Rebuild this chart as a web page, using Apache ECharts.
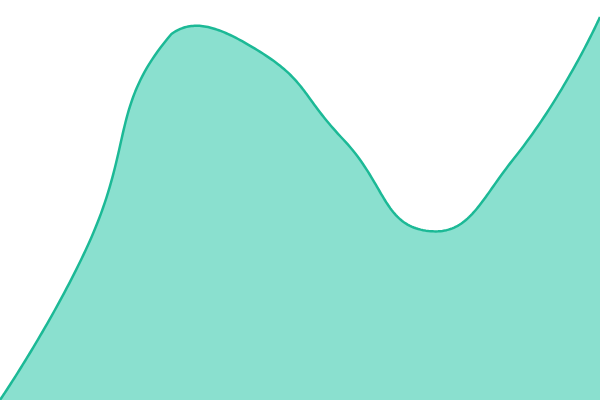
<!DOCTYPE html>
<html>
<head>
<meta charset="utf-8">
<script src="https://cdn.jsdelivr.net/npm/echarts@6/dist/echarts.min.js"></script>
<style>html,body{margin:0;padding:0;background:#fff}#c{width:600px;height:400px}</style>
</head>
<body>
<div id="c"></div>
<script>
const categories = ['A', 'B', 'C', 'D', 'E', 'F', 'G', 'H'];
const values = [0, 150, 366, 350, 261, 169, 242, 383];

const SMOOTH = 0.5;
const SAMPLES = 48;

// Bezier control points (distance-weighted, constrained to the points' bounding box)
function controlPoints(pts, smooth) {
  let minX = Infinity, minY = Infinity, maxX = -Infinity, maxY = -Infinity;
  pts.forEach(p => {
    minX = Math.min(minX, p[0]); maxX = Math.max(maxX, p[0]);
    minY = Math.min(minY, p[1]); maxY = Math.max(maxY, p[1]);
  });
  const clamp = c => [Math.min(Math.max(c[0], minX), maxX), Math.min(Math.max(c[1], minY), maxY)];
  const cps = [];
  for (let i = 0; i < pts.length; i++) {
    const p = pts[i];
    if (i === 0 || i === pts.length - 1) { cps.push([p[0], p[1]]); continue; }
    const prev = pts[i - 1], next = pts[i + 1];
    const vx = (next[0] - prev[0]) * smooth, vy = (next[1] - prev[1]) * smooth;
    let d0 = Math.hypot(p[0] - prev[0], p[1] - prev[1]);
    let d1 = Math.hypot(p[0] - next[0], p[1] - next[1]);
    const s = d0 + d1;
    if (s) { d0 /= s; d1 /= s; }
    cps.push(clamp([p[0] - vx * d0, p[1] - vy * d0]));
    cps.push(clamp([p[0] + vx * d1, p[1] + vy * d1]));
  }
  return cps;
}

function curvePoints(pts) {
  const cps = controlPoints(pts, SMOOTH);
  const out = [pts[0].slice()];
  for (let i = 0; i < pts.length - 1; i++) {
    const p0 = pts[i], c1 = cps[2 * i], c2 = cps[2 * i + 1], p1 = pts[i + 1];
    for (let k = 1; k <= SAMPLES; k++) {
      const t = k / SAMPLES, u = 1 - t;
      const a = u * u * u, b = 3 * u * u * t, c = 3 * u * t * t, d = t * t * t;
      out.push([a * p0[0] + b * c1[0] + c * c2[0] + d * p1[0],
                a * p0[1] + b * c1[1] + c * c2[1] + d * p1[1]]);
    }
  }
  return out;
}

const chart = echarts.init(document.getElementById('c'), null, { renderer: 'canvas' });
chart.setOption({
  animation: false,
  grid: { left: 0, right: 0, top: 0, bottom: 0 },
  xAxis: { type: 'category', data: categories, boundaryGap: false, show: false },
  yAxis: { type: 'value', min: 0, max: 400, show: false },
  series: [{
    type: 'custom',
    clip: false,
    data: values.map((v, i) => [i, v]),
    renderItem: function (params, api) {
      if (params.dataIndex !== 0) return;
      const pts = values.map((v, i) => api.coord([i, v]));
      const line = curvePoints(pts);
      const base = api.coord([0, 0])[1];
      const area = line.concat([[pts[pts.length - 1][0], base], [pts[0][0], base]]);
      return {
        type: 'group',
        children: [
          { type: 'polygon', shape: { points: area }, style: { fill: '#8ae0cf' } },
          { type: 'polyline', shape: { points: line }, style: { stroke: '#1cb996', lineWidth: 2.5, fill: null, lineJoin: 'round' } }
        ]
      };
    }
  }]
});
</script>
</body>
</html>
